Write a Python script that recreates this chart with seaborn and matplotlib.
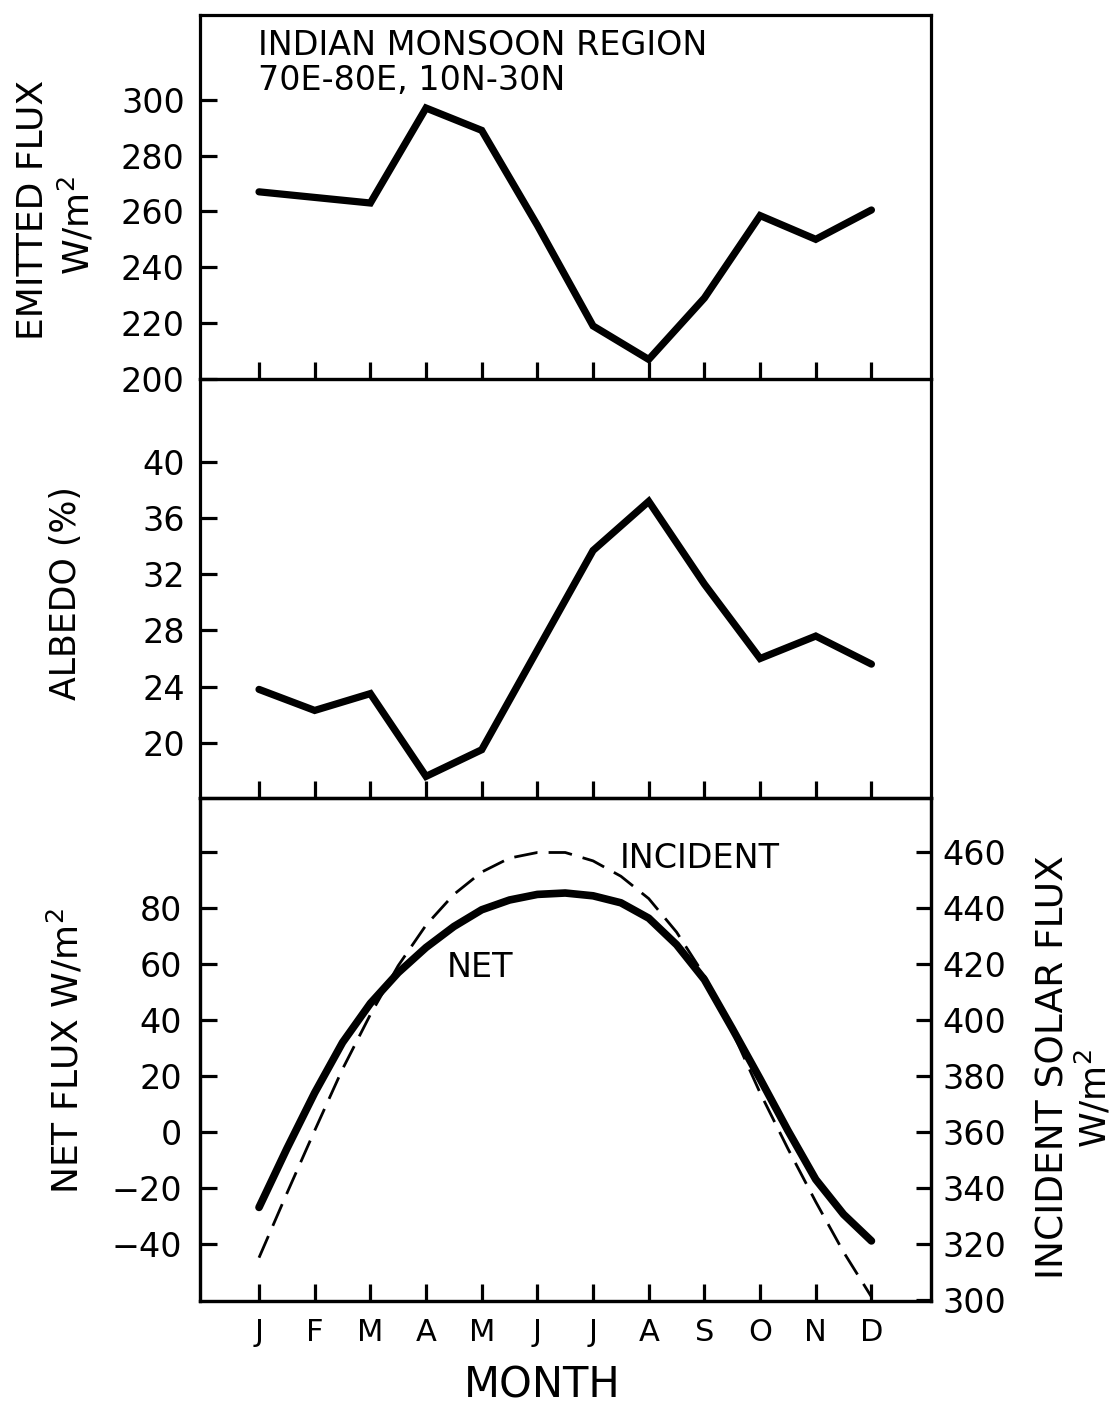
import matplotlib
matplotlib.use("Agg")
import matplotlib.pyplot as plt
import seaborn as sns

# ---------------- data ----------------
month_labels = ["J", "F", "M", "A", "M", "J", "J", "A", "S", "O", "N", "D"]
months = [1, 2, 3, 4, 5, 6, 7, 8, 9, 10, 11, 12]
emitted_flux = [267, 265, 263, 297, 289, 255, 219, 207, 229, 258.5, 250, 260.5]
albedo = [23.8, 22.3, 23.5, 17.6, 19.5, 26.6, 33.7, 37.2, 31.3, 26.0, 27.6, 25.6]

half_months = [1, 1.5, 2, 2.5, 3, 3.5, 4, 4.5, 5, 5.5, 6, 6.5,
               7, 7.5, 8, 8.5, 9, 9.5, 10, 10.5, 11, 11.5, 12]
net_flux = [-27, -6, 14, 32, 46, 57, 66, 73.5, 79.5, 83, 85, 85.5,
            84.5, 82, 76.5, 67, 54.5, 37, 19, 0.5, -17, -29.5, -39]
incident_flux = [315, 338, 360.5, 382.5, 402, 419.5, 434, 445, 453, 458, 460, 460,
                 457, 451.5, 443.5, 431.5, 416, 396, 374, 354, 335, 317, 301]

emitted_ticks = [200, 220, 240, 260, 280, 300]
albedo_ticks = [20, 24, 28, 32, 36, 40]
net_ticks = [-40, -20, 0, 20, 40, 60, 80, 100]
net_tick_labels = ["\u221240", "\u221220", "0", "20", "40", "60", "80", ""]
incident_ticks = [300, 320, 340, 360, 380, 400, 420, 440, 460]

# ---------------- style ----------------
sns.set_style("white")
plt.rcParams["font.family"] = ["DejaVu Sans"]
plt.rcParams["mathtext.default"] = "regular"
plt.rcParams["text.color"] = "black"
plt.rcParams["axes.labelcolor"] = "black"
plt.rcParams["xtick.color"] = "black"
plt.rcParams["ytick.color"] = "black"

W, H = 1113, 1416
fig = plt.figure(figsize=(W / 100, H / 100), dpi=100)

left = 200 / W
width = (931 - 200) / W


def fy(y):
    return 1 - y / H


ax1 = fig.add_axes([left, fy(379), width, (379 - 15) / H])
ax2 = fig.add_axes([left, fy(798), width, (798 - 379) / H])
ax3 = fig.add_axes([left, fy(1301), width, (1301 - 798) / H])
ax4 = ax3.twinx()

LW = 5.2
sns.lineplot(x=months, y=emitted_flux, ax=ax1, color="black", lw=LW,
             solid_joinstyle="miter", solid_capstyle="round")
sns.lineplot(x=months, y=albedo, ax=ax2, color="black", lw=LW,
             solid_joinstyle="miter", solid_capstyle="round")
sns.lineplot(x=half_months, y=net_flux, ax=ax3, color="black", lw=LW + 0.3,
             solid_joinstyle="round", solid_capstyle="round")
sns.lineplot(x=half_months, y=incident_flux, ax=ax4, color="black", lw=2.0,
             linestyle=(0, (8.5, 4)))

xlim = (-0.06, 13.07)
for ax in (ax1, ax2, ax3, ax4):
    ax.set_xlim(*xlim)
    ax.set_xlabel("")
    ax.set_ylabel("")
    for s in ax.spines.values():
        s.set_visible(True)
        s.set_linewidth(2.3)
        s.set_color("black")
    ax.set_facecolor("none")

ax1.set_ylim(200, 330.3)
ax1.set_yticks(emitted_ticks)
ax2.set_ylim(16.06, 45.92)
ax2.set_yticks(albedo_ticks)
ax3.set_ylim(-60.5, 119.5)
ax3.set_yticks(net_ticks)
ax3.set_yticklabels(net_tick_labels)
ax4.set_ylim(299.5, 479.5)
ax4.set_yticks(incident_ticks)

for ax in (ax1, ax2, ax3):
    ax.set_xticks(months)
    ax.tick_params(axis="both", which="major", direction="in", length=12,
                   width=2.3, color="black", bottom=True, left=True,
                   top=False, right=False, labelsize=24, pad=11)
for ax in (ax1, ax2):
    ax.tick_params(axis="x", labelbottom=False)
ax3.set_xticklabels(month_labels)
ax3.tick_params(axis="x", labelsize=22, pad=12)
ax3.tick_params(axis="y", pad=13)
ax4.tick_params(axis="y", which="major", direction="in", length=11, width=2.3,
                color="black", labelsize=24, pad=8, left=False, right=True,
                labelright=True, labelleft=False)
ax4.tick_params(axis="x", bottom=False, top=False, labelbottom=False)

# ---------------- texts ----------------
fig.text(258 / W, fy(55), "INDIAN MONSOON REGION", fontsize=24,
         ha="left", va="baseline")
fig.text(258 / W, fy(90), "70E-80E, 10N-30N", fontsize=24,
         ha="left", va="baseline")

fig.text(33 / W, fy(210), "EMITTED FLUX", fontsize=26, rotation=90,
         ha="center", va="center")
fig.text(77 / W, fy(225), "W/m$^2$", fontsize=26, rotation=90,
         ha="center", va="center")
fig.text(66 / W, fy(593), "ALBEDO (%)", fontsize=25, rotation=90,
         ha="center", va="center")
fig.text(66 / W, fy(1051), "NET FLUX W/m$^2$", fontsize=26, rotation=90,
         ha="center", va="center")
fig.text(1054 / W, fy(1067), "INCIDENT SOLAR FLUX", fontsize=27, rotation=90,
         ha="center", va="center")
fig.text(1094 / W, fy(1098), "W/m$^2$", fontsize=26, rotation=90,
         ha="center", va="center")

fig.text(620 / W, fy(868), "INCIDENT", fontsize=24, ha="left", va="baseline")
fig.text(447 / W, fy(977), "NET", fontsize=24, ha="left", va="baseline")
fig.text(542 / W, fy(1386), "MONTH", fontsize=30, ha="center", va="center")

fig.savefig("out.png", dpi=100, facecolor="white")
